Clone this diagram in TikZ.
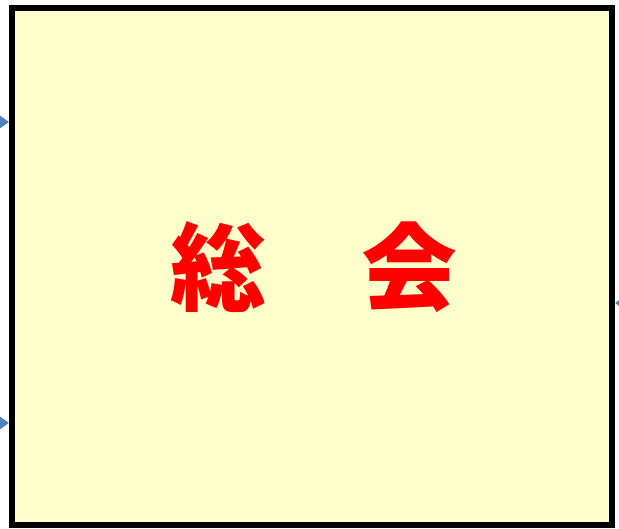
\documentclass[tikz,border=0pt]{standalone}
\usepackage{fontspec}
\newfontfamily\cjk{Noto Sans CJK JP}[BoldFont={Noto Sans CJK JP Black}]
\usetikzlibrary{arrows.meta}
\definecolor{boxfill}{HTML}{FFFFCC}
\definecolor{arrblue}{HTML}{4F81BD}
\tikzset{
  meeting/.style={draw=black, line width=0.12cm, fill=boxfill, minimum width=12cm, minimum height=10.34cm, inner sep=0pt},
  arr/.style={arrblue, line width=0.04cm, -{Triangle[width=0.3cm,length=0.22cm]}}
}
\begin{document}
\begin{tikzpicture}
\useasboundingbox (0,0) rectangle (12.38,10.56);
\node[meeting] (soukai) at (6.24,5.23) {};
\node[text=red, font=\cjk\bfseries\fontsize{54.5}{58}\selectfont] (title) at (6.28,5.22) {総　会};
% arrows reaching the box from outside
\coordinate (in1) at (-1,8.12);
\coordinate (in2) at (-1,2.10);
\coordinate (out1) at (13.5,4.50);
\draw[arr] (in1) -- (in1 -| soukai.west);
\draw[arr] (in2) -- (in2 -| soukai.west);
\draw[arr] (out1) -- (out1 -| soukai.east);
\end{tikzpicture}
\end{document}
